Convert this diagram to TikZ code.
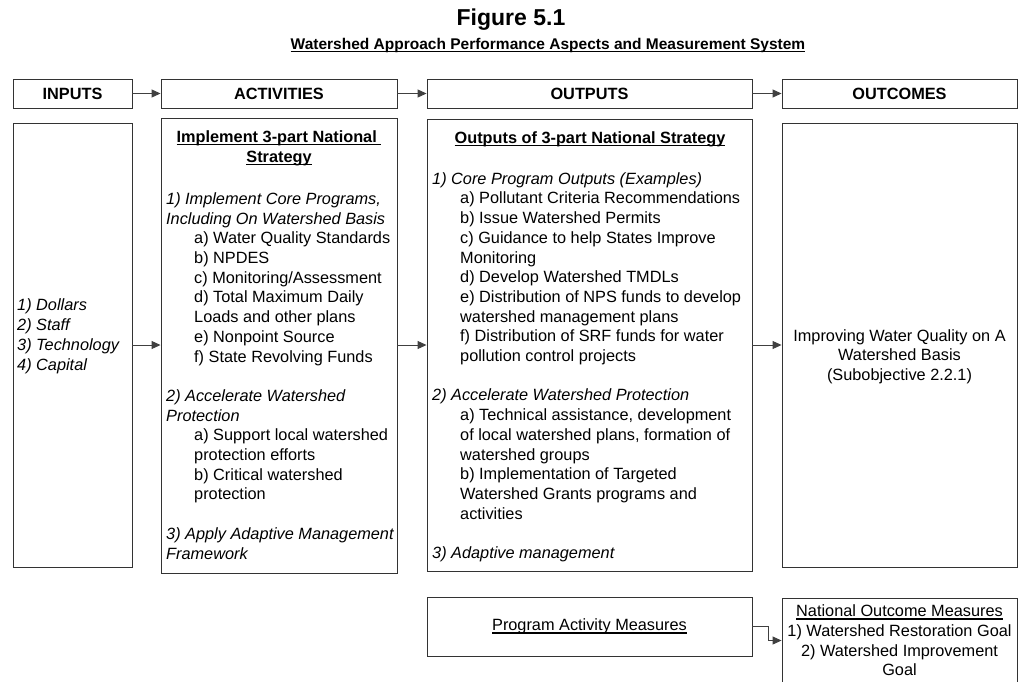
\documentclass[tikz,border=0pt]{standalone}
\usepackage{fontspec}
\setmainfont{Liberation Sans}
\usetikzlibrary{arrows.meta,positioning}
\tikzset{
  box/.style={draw=black!80, line width=0.9pt, inner sep=0pt, rectangle},
  arr/.style={draw=black!75, line width=1pt, -{Triangle[length=9pt,width=8pt]}},
  txt/.style={font=\fontsize{16.3}{19.7}\selectfont, inner sep=0pt, align=left},
  hdr/.style={font=\fontsize{16.3}{19.7}\selectfont\bfseries, inner sep=0pt},
}
\newsavebox{\ulbox}
\newcommand{\uln}[1]{\sbox{\ulbox}{#1}\rlap{\rule[-2.9pt]{\wd\ulbox}{1.2pt}}\usebox{\ulbox}}
\newcommand{\ind}{\hspace*{28pt}}

\begin{document}
\begin{tikzpicture}[x=1pt,y=-1pt]
\useasboundingbox (0,0) rectangle (1020,681);

% title
\node[font=\fontsize{23}{27}\selectfont\bfseries] (fig) at (511,20) {Figure 5.1};
\node[font=\fontsize{15.5}{18}\selectfont\bfseries] (subtitle) at (548,45)
  {\uln{Watershed Approach Performance Aspects and Measurement System}};

% header row
\node[box, hdr, minimum width=119pt, minimum height=29pt] (inhead) at (72.5,93.5) {INPUTS};
\node[box, hdr, minimum width=236pt, minimum height=29pt] (acthead) at (279,93.5) {ACTIVITIES};
\node[box, hdr, minimum width=325pt, minimum height=29pt] (outhead) at (589.5,93.5) {OUTPUTS};
\node[box, hdr, minimum width=235pt, minimum height=29pt] (outchead) at (899.5,93.5) {OUTCOMES};

% body boxes
\node[box, minimum width=119pt, minimum height=444pt] (inbox) at (72.5,345) {};
\node[box, minimum width=236pt, minimum height=455pt] (actbox) at (279,345.5) {};
\node[box, minimum width=325pt, minimum height=452pt] (outbox) at (589.5,345) {};
\node[box, minimum width=235pt, minimum height=444pt] (outcbox) at (899.5,345) {};

% inputs (base = last line)
\node[txt, anchor=base west] (intext) at (17,370)
  {\itshape 1) Dollars\\\itshape 2) Staff\\\itshape 3) Technology\\\itshape 4) Capital};

% activities
\node[hdr, align=center, anchor=base] (acttitle) at (279,162)
  {\uln{Implement 3-part National\ }\\\uln{Strategy}};
\node[txt, anchor=base west] (acttext) at (166,559)
  {\textit{1) Implement Core Programs,}\\
   \textit{Including On Watershed Basis}\\
   \ind a) Water Quality Standards\\
   \ind b) NPDES\\
   \ind c) Monitoring/Assessment\\
   \ind d) Total Maximum Daily\\
   \ind Loads and other plans\\
   \ind e) Nonpoint Source\\
   \ind f) State Revolving Funds\\
   ~\\
   \textit{2) Accelerate Watershed}\\
   \textit{Protection}\\
   \ind a) Support local watershed\\
   \ind protection efforts\\
   \ind b) Critical watershed\\
   \ind protection\\
   ~\\
   \textit{3) Apply Adaptive Management}\\
   \textit{Framework}};

% outputs
\node[hdr, anchor=base] (outtitle) at (590,143.5)
  {\uln{Outputs of 3-part National Strategy}};
\node[txt, anchor=base west] (outtext) at (432,558.5)
  {\textit{1) Core Program Outputs (Examples)}\\
   \ind a) Pollutant Criteria Recommendations\\
   \ind b) Issue Watershed Permits\\
   \ind c) Guidance to help States Improve\\
   \ind Monitoring\\
   \ind d) Develop Watershed TMDLs\\
   \ind e) Distribution of NPS funds to develop\\
   \ind watershed management plans\\
   \ind f) Distribution of SRF funds for water\\
   \ind pollution control projects\\
   ~\\
   \textit{2) Accelerate Watershed Protection}\\
   \ind a) Technical assistance, development\\
   \ind of local watershed plans, formation of\\
   \ind watershed groups\\
   \ind b) Implementation of Targeted\\
   \ind Watershed Grants programs and\\
   \ind activities\\
   ~\\
   \textit{3) Adaptive management}};

% outcomes
\node[txt, align=center, anchor=base] (outctext) at (899.5,380.5)
  {Improving Water Quality on A\\Watershed Basis\\(Subobjective 2.2.1)};

% measures
\node[box, txt, align=center, minimum width=325pt, minimum height=59pt] (pambox) at (589.5,626.5)
  {\uln{Program Activity Measures}};
\node[box, txt, align=center, minimum width=235pt, minimum height=85pt] (nombox) at (899.5,640.5)
  {\uln{National Outcome Measures}\\1) Watershed Restoration Goal\\2) Watershed Improvement\\Goal};

% connectors
\draw[arr] (inhead) -- (acthead);
\draw[arr] (acthead) -- (outhead);
\draw[arr] (outhead) -- (outchead);
\draw[arr] (inbox.east) -- (inbox.east -| actbox.west);
\draw[arr] (inbox.east -| actbox.east) -- (inbox.east -| outbox.west);
\draw[arr] (outbox.east) -- (outbox.east -| outcbox.west);
\draw[arr] (pambox.east) -- ++(16,0) |- (nombox.west);
\end{tikzpicture}
\end{document}
